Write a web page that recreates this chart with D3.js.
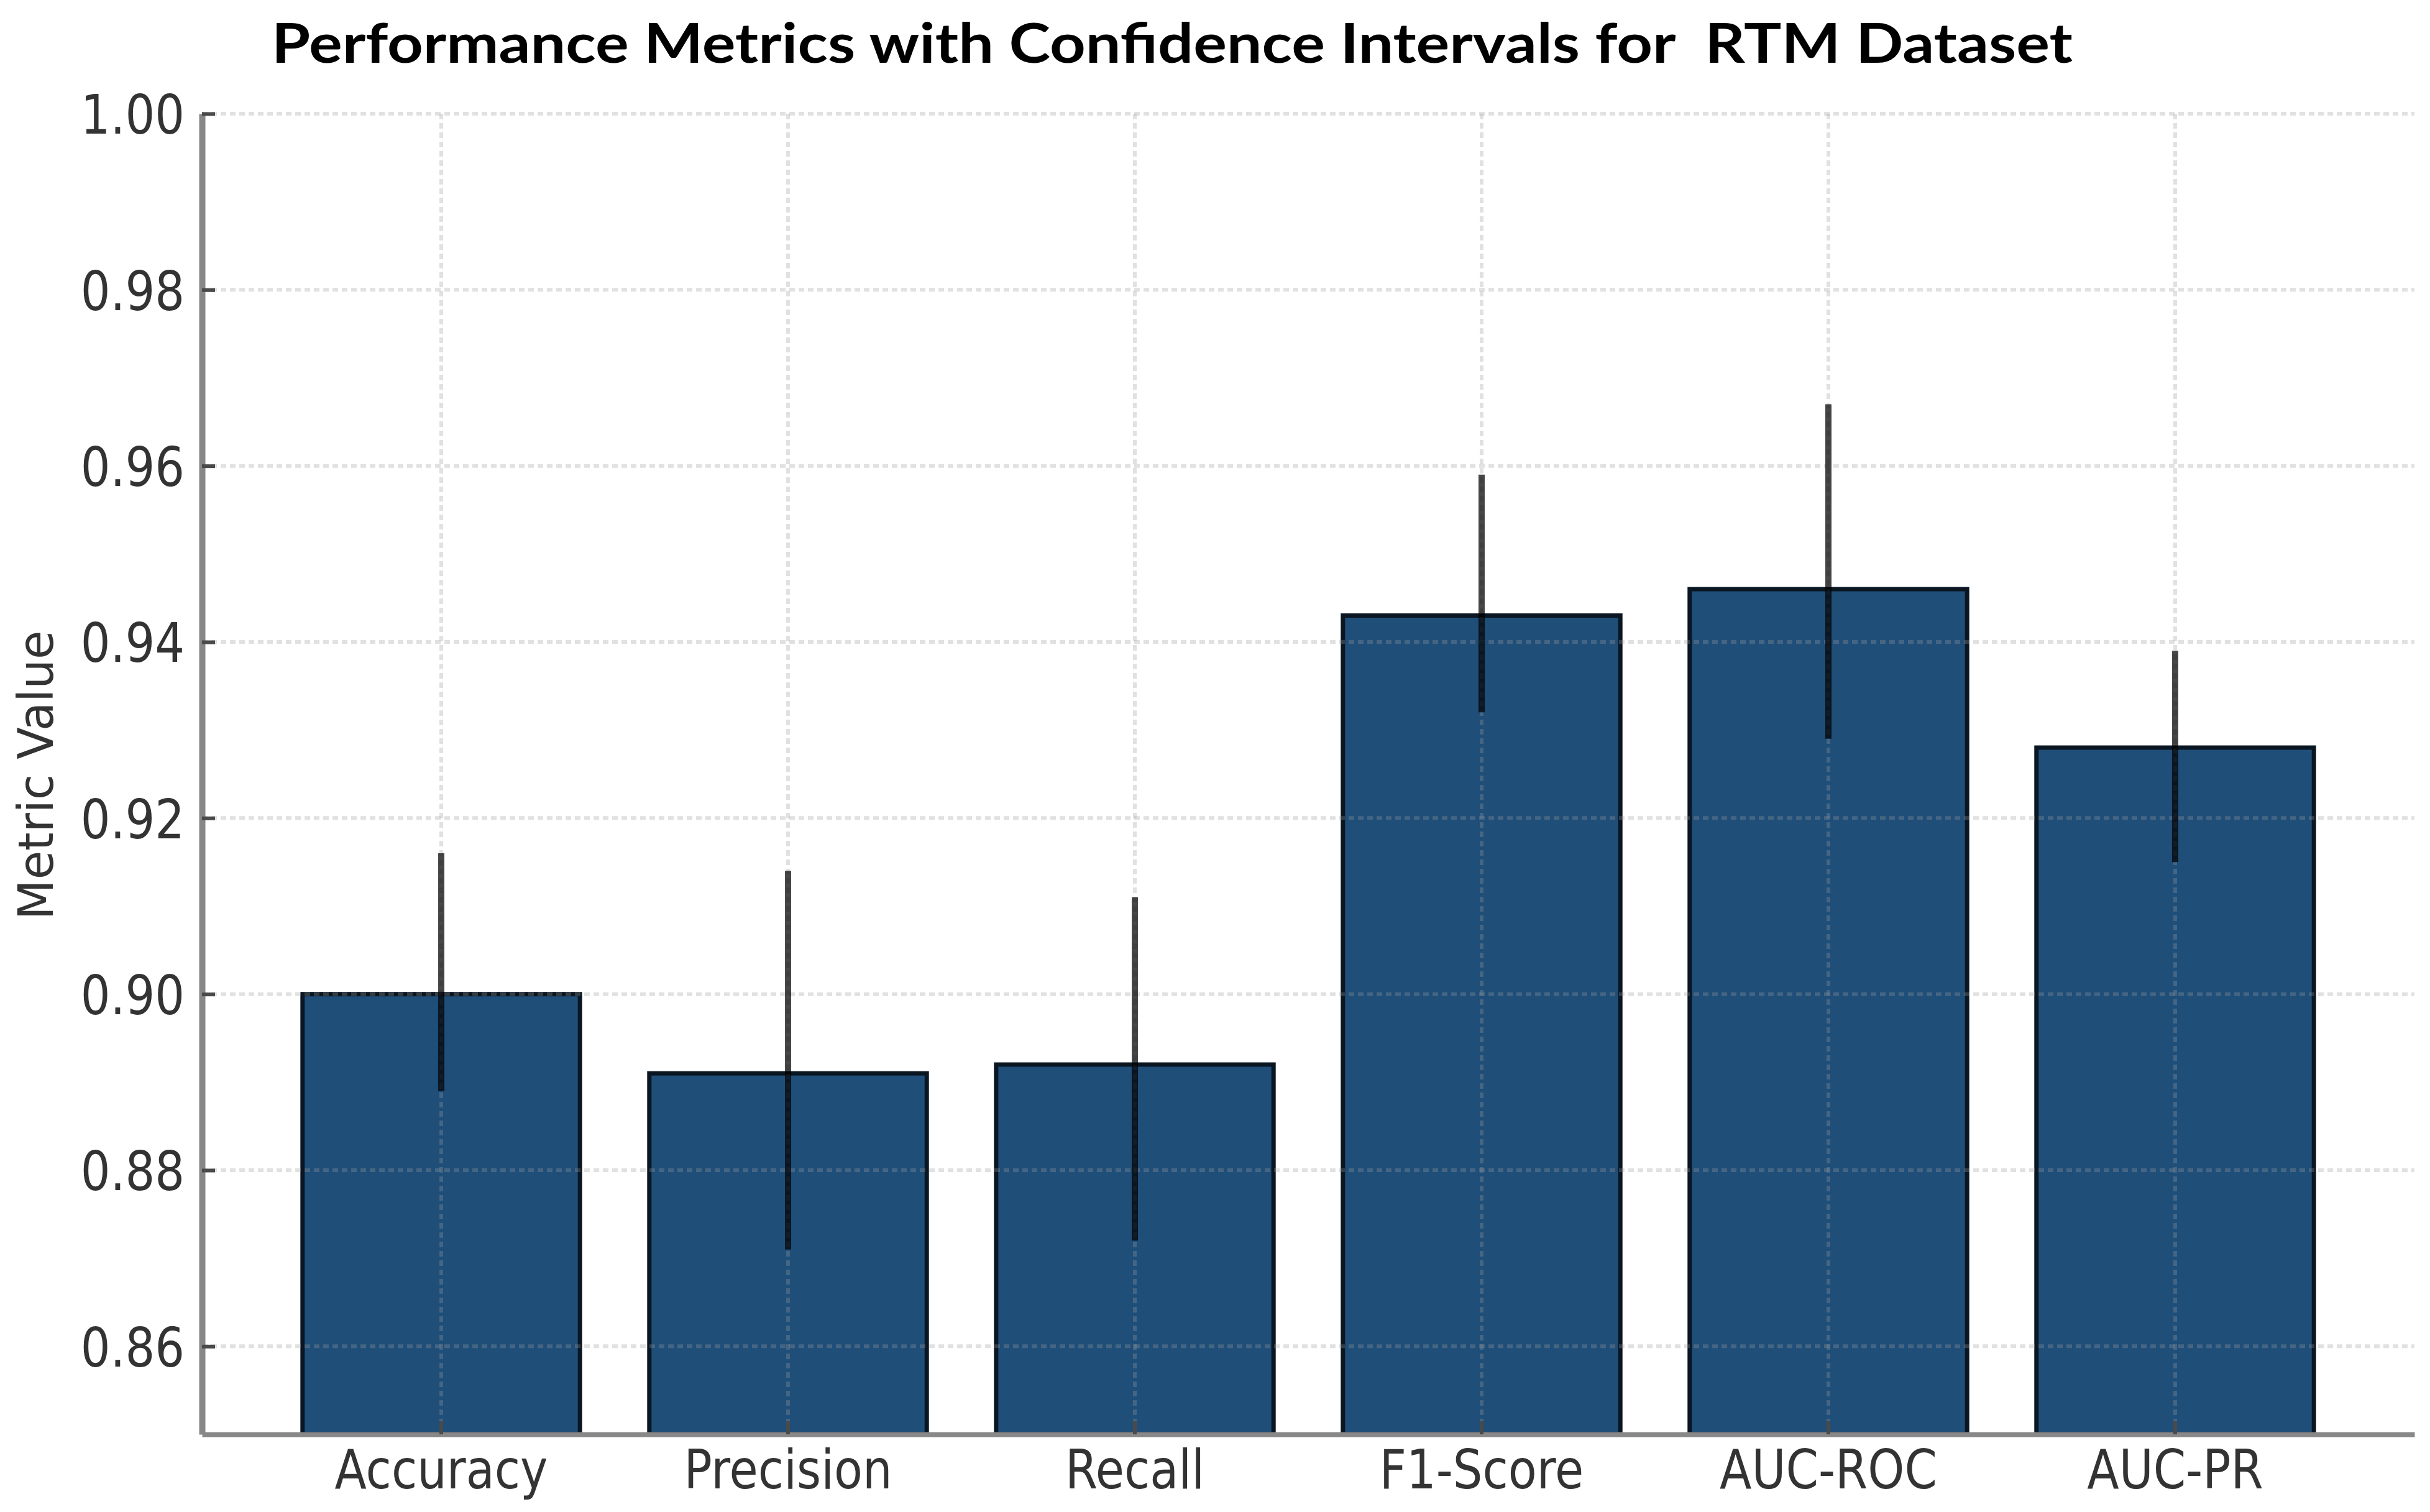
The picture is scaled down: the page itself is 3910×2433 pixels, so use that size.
<!DOCTYPE html>
<html>
<head>
<meta charset="utf-8">
<script src="https://cdn.jsdelivr.net/npm/d3@7"></script>
<style>
  body { margin: 0; background: #fff; }
  svg { display: block; }
</style>
</head>
<body>
<div id="chart"></div>
<script>
// Values
var metrics = ["Accuracy", "Precision", "Recall", "F1-Score", "AUC-ROC", "AUC-PR"];
var values  = [0.900, 0.891, 0.892, 0.943, 0.946, 0.928];
var ciLow   = [0.889, 0.871, 0.872, 0.932, 0.929, 0.915];
var ciHigh  = [0.916, 0.914, 0.911, 0.959, 0.967, 0.939];
var yTicks  = [0.86, 0.88, 0.90, 0.92, 0.94, 0.96, 0.98, 1.00];
var yDomain = [0.85, 1.00];

var WIDTH = 3910, HEIGHT = 2433;
var plotLeft = 325, plotRight = 3885, plotTop = 183, plotBottom = 2308;
var SQUEEZE = 0.854;   // the reference text is a little narrow

var svg = d3.select("#chart").append("svg")
    .attr("width", WIDTH)
    .attr("height", HEIGHT)
    .style("background", "#fff");

var x = d3.scaleBand()
    .domain(metrics)
    .range([plotLeft, plotRight])
    .paddingInner(0.2)
    .paddingOuter(0.29);

var y = d3.scaleLinear()
    .domain(yDomain)
    .range([plotBottom, plotTop]);

var rows = metrics.map(function(m, i) {
    return { name: m, value: values[i], lo: ciLow[i], hi: ciHigh[i] };
});

// Bars
svg.append("g").selectAll("rect")
    .data(rows)
    .enter().append("rect")
    .attr("x", function(d) { return x(d.name); })
    .attr("y", function(d) { return y(d.value); })
    .attr("width", x.bandwidth())
    .attr("height", function(d) { return y(yDomain[0]) - y(d.value); })
    .style("fill", "#1f4e79")
    .style("stroke", "#0a1622")
    .style("stroke-width", 7);

// Grid, drawn over the bars like the reference
var grid = svg.append("g")
    .style("stroke", "#9a9a9a")
    .style("stroke-opacity", 0.3)
    .style("stroke-width", 6)
    .style("stroke-dasharray", "9,6");

grid.selectAll("line.h")
    .data(yTicks)
    .enter().append("line")
    .attr("class", "h")
    .attr("x1", plotLeft).attr("x2", plotRight)
    .attr("y1", function(d) { return y(d); })
    .attr("y2", function(d) { return y(d); });

grid.selectAll("line.v")
    .data(metrics)
    .enter().append("line")
    .attr("class", "v")
    .attr("x1", function(d) { return x(d) + x.bandwidth() / 2; })
    .attr("x2", function(d) { return x(d) + x.bandwidth() / 2; })
    .attr("y1", plotTop).attr("y2", plotBottom);

// Confidence intervals
svg.append("g").selectAll("line")
    .data(rows)
    .enter().append("line")
    .attr("x1", function(d) { return x(d.name) + x.bandwidth() / 2; })
    .attr("x2", function(d) { return x(d.name) + x.bandwidth() / 2; })
    .attr("y1", function(d) { return y(d.hi); })
    .attr("y2", function(d) { return y(d.lo); })
    .style("stroke", "#000")
    .style("stroke-opacity", 0.72)
    .style("stroke-width", 10);

// Axes
var yAxis = d3.axisLeft(y)
    .tickValues(yTicks)
    .tickFormat(d3.format(".2f"))
    .tickSizeInner(-21)
    .tickSizeOuter(0)
    .tickPadding(28);

var xAxis = d3.axisBottom(x)
    .tickSizeInner(-21)
    .tickSizeOuter(0)
    .tickPadding(25);

function styleAxis(g) {
    g.select(".domain").style("stroke", "#888");
    g.selectAll(".tick line").style("stroke", "#4a4a4a").style("stroke-width", 6);
    g.selectAll(".tick text")
        .style("font-family", "'DejaVu Sans', sans-serif")
        .style("font-size", "88px")
        .style("fill", "#333");
}

var gy = svg.append("g")
    .attr("transform", "translate(" + plotLeft + ",0)")
    .call(yAxis)
    .call(styleAxis);
gy.select(".domain").style("stroke-width", 10);
gy.selectAll(".tick text")
    .attr("dy", "0.36em")
    .attr("x", -28 / SQUEEZE)
    .attr("transform", "scale(" + SQUEEZE + ",1)");

var gx = svg.append("g")
    .attr("transform", "translate(0," + plotBottom + ")")
    .call(xAxis)
    .call(styleAxis);
gx.select(".domain").style("stroke-width", 8);
gx.selectAll(".tick text")
    .attr("transform", "scale(" + SQUEEZE + ",1)");

// Axis label
svg.append("text")
    .attr("transform", "translate(85," + ((plotTop + plotBottom) / 2 + 2) + ") rotate(-90)")
    .attr("text-anchor", "middle")
    .attr("textLength", 466)
    .attr("lengthAdjust", "spacingAndGlyphs")
    .style("font-family", "'DejaVu Sans', sans-serif")
    .style("font-size", "78px")
    .style("fill", "#333")
    .text("Metric Value");

// Title
svg.append("text")
    .attr("x", 437)
    .attr("y", 101)
    .attr("textLength", 2898)
    .attr("lengthAdjust", "spacingAndGlyphs")
    .style("font-family", "Lato, 'Open Sans', sans-serif")
    .style("font-weight", 700)
    .style("font-size", "88px")
    .style("fill", "#000")
    .style("white-space", "pre")
    .text("Performance Metrics with Confidence Intervals for  RTM Dataset");
</script>
</body>
</html>
